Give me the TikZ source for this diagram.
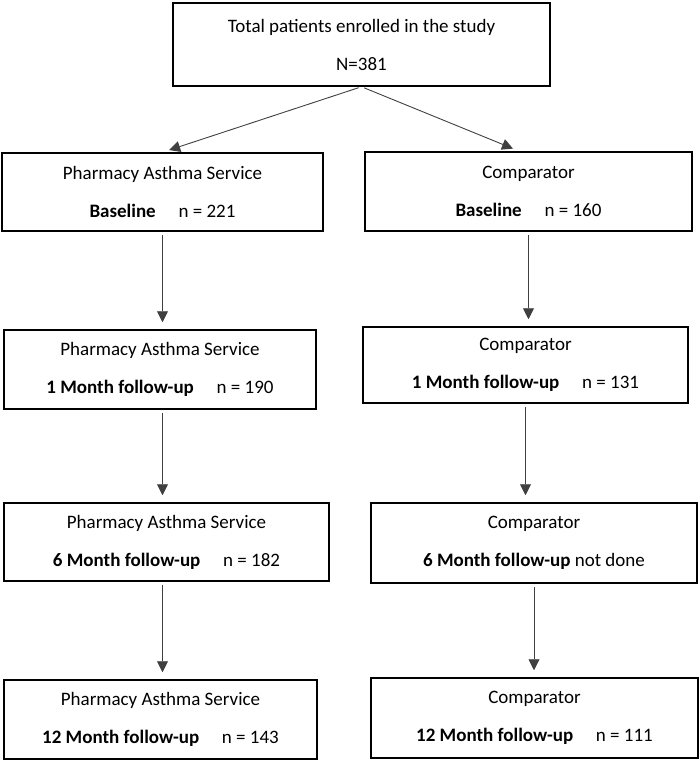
\documentclass[tikz,border=0pt]{standalone}
\usepackage{fontspec}
\setmainfont{Carlito}
\usetikzlibrary{arrows.meta, positioning, calc}

\begin{document}
\begin{tikzpicture}[x=1pt,y=-1pt]
      \tikzset{flow box/.style={draw=black,
          line width=1.5pt,
          inner sep=0pt,
          align=center,
          font=\fontsize{19}{38}\selectfont},
        box size/.style 2 args={minimum width=#1pt, minimum height=#2pt},
        flow arrow/.style={draw=black!75,
          line width=0.9pt,
          -{Triangle[width=11pt,length=11pt]},
          shorten >=7pt, shorten <=3pt}
      }
      \useasboundingbox (0,0) rectangle (699,762);
      \node [flow box,box size={377}{83}] (total) at (361.5,44.5) {Total patients enrolled in the study\\N=381};
      \node [flow box,box size={321}{78}] (pasBase) at (162.5,192) {Pharmacy Asthma Service\\\textbf{Baseline}\hspace{1.2em}n = 221};
      \node [flow box,box size={327}{79}] (compBase) at (528.5,191.5) {Comparator\\\textbf{Baseline}\hspace{1.2em}n = 160};
      \node [flow box,box size={312}{79}] (pasOne) at (160,369.5) {Pharmacy Asthma Service\\\textbf{1 Month follow-up}\hspace{1.2em}n = 190};
      \node [flow box,box size={325}{76}] (compOne) at (525.5,365) {Comparator\\\textbf{1 Month follow-up}\hspace{1.2em}n = 131};
      \node [flow box,box size={325}{78}] (pasSix) at (166.5,542) {Pharmacy Asthma Service\\\textbf{6 Month follow-up}\hspace{1.2em}n = 182};
      \node [flow box,box size={326}{80}] (compSix) at (534,543) {Comparator\\\textbf{6 Month follow-up} not done};
      \node [flow box,box size={313}{79}] (pasTwelve) at (160.5,719.5) {Pharmacy Asthma Service\\\textbf{12 Month follow-up}\hspace{1.2em}n = 143};
      \node [flow box,box size={327}{80}] (compTwelve) at (534.5,718) {Comparator\\\textbf{12 Month follow-up}\hspace{1.2em}n = 111};
      % split of the enrolled patients
      \draw [flow arrow] (total.south) -- (pasBase.north);
      \draw [flow arrow] (total.south) -- ([xshift=-9pt]compBase.north);
      % follow-up steps
      \draw [flow arrow] (pasBase.south) -- (pasBase.south |- pasOne.north);
      \draw [flow arrow] (pasOne.south -| pasBase.south) -- (pasSix.north -| pasBase.south);
      \draw [flow arrow] (pasSix.south -| pasBase.south) -- (pasTwelve.north -| pasBase.south);
      \draw [flow arrow] (compBase.south) -- (compBase.south |- compOne.north);
      \draw [flow arrow] (compOne.south) -- (compOne.south |- compSix.north);
      \draw [flow arrow] (compSix.south) -- (compSix.south |- compTwelve.north);
\end{tikzpicture}
\end{document}
